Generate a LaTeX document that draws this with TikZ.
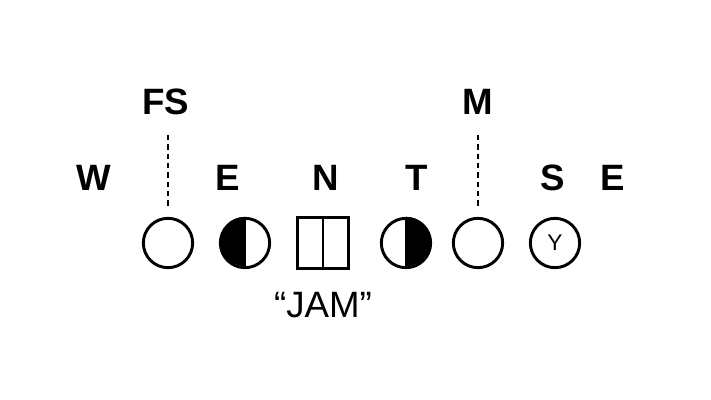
\documentclass[tikz,border=0pt]{standalone}
\usepackage{fontspec}
\setmainfont{Liberation Sans}
\begin{document}
\begin{tikzpicture}[x=0.75pt, y=-0.75pt, every node/.style={font=\fontsize{27.5}{30}\selectfont\bfseries, inner sep=0pt, anchor=base},
  player/.style={draw, line width=2.2pt, circle, minimum size=37pt, anchor=center},
  center/.style={draw, line width=2.2pt, rectangle, minimum size=38pt, anchor=center},
  read/.style={line width=1.8pt, dash pattern=on 4pt off 3pt}]
\useasboundingbox (0,0) rectangle (711,400);
% labels
\node (fs) at (166,114) {FS};
\node (m) at (478,114) {M};
\node (w) at (94,190) {W};
\node (e) at (228,190) {E};
\node (n) at (326,190) {N};
\node (t) at (417,190) {T};
\node (s) at (553,190) {S};
\node (e2) at (613,190) {E};
% line
\node[player] (c1) at (168,243) {};
\node[player] (c2) at (245,243) {};
\node[center] (c3) at (323,243) {};
\node[player] (c4) at (406,243) {};
\node[player] (c5) at (478,243) {};
\node[player, font=\fontsize{17}{19}\selectfont] (c6) at (555,243) {Y};
\fill (c2.north) arc (-90:-270:24.67) -- cycle;
\fill (c4.north) arc (-90:90:24.67) -- cycle;
\draw[line width=2.2pt] (c2.north) -- (c2.south);
\draw[line width=2.2pt] (c4.north) -- (c4.south);
\draw[line width=2.2pt] (c3.north) -- (c3.south);
\node[font=\fontsize{27.5}{30}\selectfont] (jam) at (323,317) {``JAM''};
% reads
\coordinate (fstop) at (168,135);
\coordinate (mtop) at (478,135);
\draw[read] (fstop) -- ([yshift=6]c1.north);
\draw[read] (mtop) -- ([yshift=6]c5.north);
\end{tikzpicture}
\end{document}
